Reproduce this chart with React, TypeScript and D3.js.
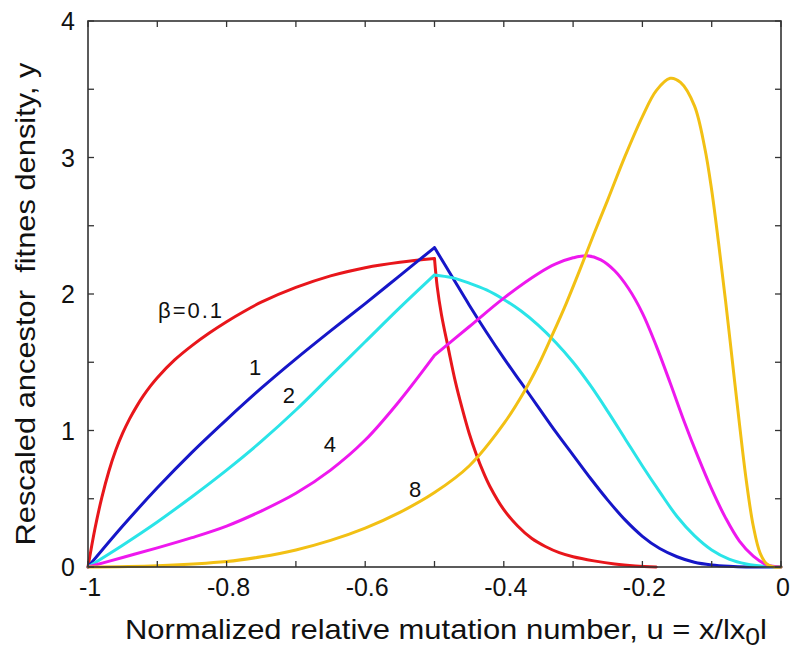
import React from "react";
import * as d3 from "d3";

// ---- data ----
const redU = [-1, -0.99, -0.98, -0.97, -0.96, -0.95, -0.94, -0.93, -0.92, -0.91, -0.9, -0.875, -0.85, -0.825, -0.8, -0.775, -0.75, -0.7, -0.65, -0.6, -0.55, -0.5,
  -0.496, -0.49, -0.48, -0.47, -0.46, -0.45, -0.44, -0.43, -0.42, -0.4, -0.38, -0.36, -0.34, -0.32, -0.3, -0.27, -0.24, -0.21, -0.18];
const redY = [0, 0.28, 0.51, 0.7, 0.855, 0.98, 1.085, 1.175, 1.255, 1.325, 1.387, 1.517, 1.622, 1.714, 1.797, 1.872, 1.94, 2.048, 2.133, 2.193, 2.233, 2.26,
  2.05, 1.85, 1.6, 1.36, 1.16, 0.98, 0.83, 0.7, 0.59, 0.42, 0.3, 0.21, 0.15, 0.105, 0.075, 0.045, 0.022, 0.008, 0];

const blueU = [-1, -0.95, -0.9, -0.85, -0.8, -0.75, -0.7, -0.65, -0.6, -0.55, -0.5,
  -0.475, -0.45, -0.425, -0.4, -0.375, -0.35, -0.325, -0.3, -0.275, -0.25, -0.225, -0.2, -0.175, -0.15, -0.125, -0.1, -0.075, -0.05, 0];
const blueY = [0, 0.3, 0.58, 0.84, 1.08, 1.31, 1.525, 1.73, 1.93, 2.135, 2.34,
  2.13, 1.92, 1.72, 1.53, 1.35, 1.17, 0.99, 0.82, 0.65, 0.49, 0.345, 0.225, 0.135, 0.075, 0.035, 0.015, 0.005, 0, 0];

const cyanU = [-1, -0.95, -0.9, -0.85, -0.8, -0.75, -0.7, -0.65, -0.6, -0.55, -0.5,
  -0.475, -0.45, -0.425, -0.4, -0.375, -0.35, -0.325, -0.3, -0.275, -0.25, -0.225, -0.2, -0.175, -0.15, -0.125, -0.1, -0.075, -0.05, -0.025, 0];
const cyanY = [0, 0.16, 0.33, 0.515, 0.71, 0.92, 1.15, 1.4, 1.65, 1.9, 2.14,
  2.12, 2.08, 2.03, 1.96, 1.875, 1.77, 1.645, 1.5, 1.33, 1.14, 0.94, 0.74, 0.55, 0.37, 0.23, 0.125, 0.058, 0.022, 0.005, 0];

const magentaU = [-1, -0.95, -0.9, -0.85, -0.8, -0.75, -0.7, -0.65, -0.6, -0.55, -0.5,
  -0.45, -0.4, -0.35, -0.325, -0.3, -0.28, -0.26, -0.24, -0.22, -0.2, -0.18, -0.16, -0.14, -0.12, -0.1, -0.08, -0.06, -0.04, -0.02, 0];
const magentaY = [0, 0.07, 0.14, 0.215, 0.3, 0.41, 0.54, 0.71, 0.93, 1.22, 1.55,
  1.76, 1.97, 2.15, 2.22, 2.265, 2.28, 2.25, 2.17, 2.04, 1.86, 1.62, 1.35, 1.07, 0.81, 0.57, 0.36, 0.19, 0.08, 0.015, 0];

const yellowU = [-1, -0.9, -0.8, -0.75, -0.7, -0.65, -0.6, -0.55, -0.5, -0.45, -0.4, -0.37, -0.35, -0.33, -0.31, -0.29, -0.27, -0.25, -0.225, -0.2,
  -0.18, -0.16, -0.145, -0.125, -0.11, -0.1, -0.09, -0.08, -0.07, -0.06, -0.05, -0.04, -0.03, -0.02, -0.01, 0];
const yellowY = [0, 0.01, 0.04, 0.075, 0.125, 0.195, 0.285, 0.4, 0.545, 0.74, 1.05, 1.29, 1.48, 1.7, 1.93, 2.18, 2.44, 2.69, 3.01, 3.3,
  3.49, 3.58, 3.55, 3.38, 3.07, 2.76, 2.37, 1.95, 1.5, 1.05, 0.63, 0.3, 0.1, 0.02, 0, 0];

const xTickValues = [-1, -0.8, -0.6, -0.4, -0.2, 0];
const xTickLabels = ["-1", "-0.8", "-0.6", "-0.4", "-0.2", "0"];
const yTickValues = [0, 1, 2, 3, 4];
const yTickLabels = ["0", "1", "2", "3", "4"];

const curveLabels = ["β=0.1", "1", "2", "4", "8"];
const curveLabelU = [-0.899, -0.759, -0.71, -0.651, -0.528];
const curveLabelY = [1.824, 1.41, 1.2, 0.84, 0.51];

const series = [
  { u: redU, y: redY, color: "#e8161b", kink: -0.5 },
  { u: blueU, y: blueY, color: "#1616c8", kink: -0.5 },
  { u: cyanU, y: cyanY, color: "#2ae4e8", kink: -0.5 },
  { u: magentaU, y: magentaY, color: "#ee18ee", kink: -0.5 },
  { u: yellowU, y: yellowY, color: "#f2c014", kink: null as number | null },
];

const W = 800;
const H = 657;
const L = 88, R = 781, T = 21, B = 567;
const FONT = "'Liberation Sans', Arial, Helvetica, sans-serif";

export default function App() {
  const x = d3.scaleLinear().domain([-1, 0]).range([L, R]);
  const y = d3.scaleLinear().domain([0, 4]).range([B, T]);
  const line = d3
    .line<[number, number]>()
    .x((d) => x(d[0]))
    .y((d) => Math.min(B, y(d[1])))
    .curve(d3.curveCatmullRom.alpha(0.5));

  const pathFor = (s: (typeof series)[number]) => {
    const pts: [number, number][] = s.u.map((u, i) => [u, s.y[i]]);
    if (s.kink === null) return line(pts) || "";
    const left = pts.filter((p) => p[0] <= s.kink!);
    const right = pts.filter((p) => p[0] >= s.kink!);
    return (line(left) || "") + (line(right) || "");
  };

  const minorX = d3.range(0, 11).map((i) => -1 + i * 0.1);
  const minorY = d3.range(0, 9).map((i) => i * 0.5);
  const tick = 6;

  return (
    <svg
      width={W}
      height={H}
      style={{ position: "absolute", left: 0, top: 0, display: "block", background: "#fff" }}
      fontFamily={FONT}
    >
      <rect x={0} y={0} width={W} height={H} fill="#fff" />
      {/* curves */}
      {series.map((s, i) => (
        <path
          key={i}
          d={pathFor(s)}
          fill="none"
          stroke={s.color}
          strokeWidth={3}
          strokeLinejoin="round"
          strokeLinecap="round"
        />
      ))}
      {/* frame */}
      <rect x={L} y={T} width={R - L} height={B - T} fill="none" stroke="#333" strokeWidth={1.6} />
      {/* ticks */}
      {minorX.map((v, i) => (
        <g key={"xt" + i} stroke="#333" strokeWidth={1.3}>
          <line x1={x(v)} x2={x(v)} y1={B} y2={B - tick} />
          <line x1={x(v)} x2={x(v)} y1={T} y2={T + tick} />
        </g>
      ))}
      {minorY.map((v, i) => (
        <g key={"yt" + i} stroke="#333" strokeWidth={1.3}>
          <line x1={L} x2={L + tick} y1={y(v)} y2={y(v)} />
          <line x1={R} x2={R - tick} y1={y(v)} y2={y(v)} />
        </g>
      ))}
      {/* tick labels */}
      {xTickValues.map((v, i) => (
        <text key={"xl" + i} x={x(v) + 2} y={596} fontSize={25} textAnchor="middle" fill="#111">
          {xTickLabels[i]}
        </text>
      ))}
      {yTickValues.map((v, i) => (
        <text key={"yl" + i} x={75} y={y(v) + 9} fontSize={25} textAnchor="end" fill="#111">
          {yTickLabels[i]}
        </text>
      ))}
      {/* curve labels */}
      {curveLabels.map((t, i) => (
        <text
          key={"cl" + i}
          x={x(curveLabelU[i])}
          y={y(curveLabelY[i])}
          fontSize={22}
          textAnchor={i === 0 ? "start" : "middle"}
          letterSpacing={i === 0 ? 2 : 0}
          fill="#111"
        >
          {t}
        </text>
      ))}
      {/* axis titles */}
      <text x={125} y={639} fontSize={28} fill="#111" textLength={642} lengthAdjust="spacingAndGlyphs">
        Normalized relative mutation number, u = x/lx
        <tspan dy={6} fontSize={24}>0</tspan>
        <tspan dy={-6}>l</tspan>
      </text>
      <text
        transform={`translate(35, 304) rotate(-90)`}
        fontSize={28}
        textAnchor="middle"
        fill="#111"
        textLength={483}
        lengthAdjust="spacingAndGlyphs"
        style={{ whiteSpace: "pre" }}
      >
        {"Rescaled ancestor  fitnes density, y"}
      </text>
    </svg>
  );
}
